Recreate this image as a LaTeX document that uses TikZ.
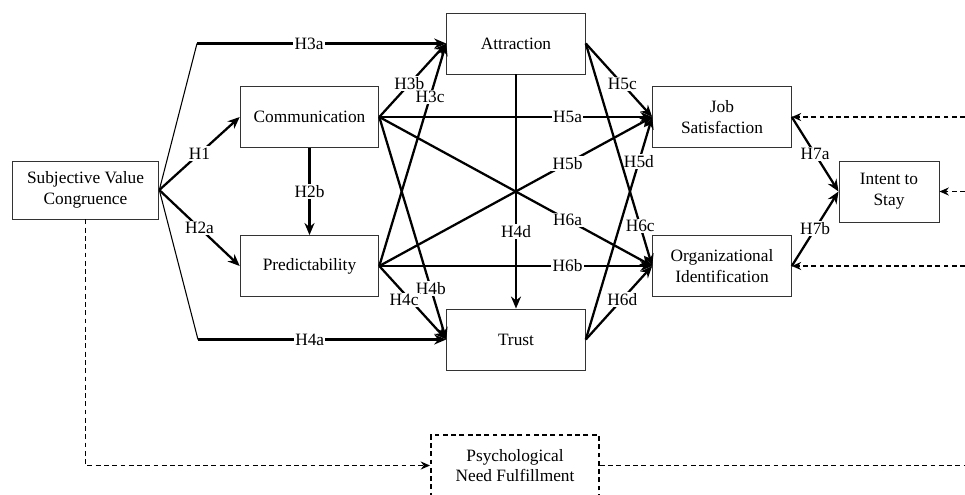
\documentclass[tikz,border=0pt]{standalone}
\usepackage{fontspec}
\setmainfont{Liberation Serif}
\usetikzlibrary{arrows.meta}

\begin{document}
\begin{tikzpicture}[x=0.75pt,y=0.75pt,yscale=-1,xscale=1,
    font=\fontsize{13}{15.5}\selectfont,
    box/.style={draw=black!80,line width=0.7pt,minimum width=104pt,minimum height=45.75pt,align=center,inner sep=1pt},
    link/.style={line width=1.7pt,-{Stealth[length=9pt,width=7.5pt]}},
    thinline/.style={line width=0.8pt},
    hyp/.style={fill=white,inner sep=1pt},
    dashline/.style={line width=1.4pt,dash pattern=on 3.6pt off 2.6pt},
    dasharrow/.style={dashline,-{Stealth[length=7pt,width=6pt]}}]
    %set diagram size to 965 x 494
    \useasboundingbox (0,0) rectangle (965,494);
    % Boxes
    \node[box,minimum width=110pt,minimum height=43.5pt] (svc) at (85.5,190) {Subjective Value\\Congruence};
    \node[box] (comm) at (309.5,117) {Communication};
    \node[box] (pred) at (309.5,266) {Predictability};
    \node[box] (attr) at (516,43.5) {Attraction};
    \node[box] (trust) at (516,339.5) {Trust};
    \node[box] (js) at (722,117) {Job\\Satisfaction};
    \node[box] (oi) at (722,266) {Organizational\\Identification};
    \node[box,minimum width=75pt] (stay) at (889,191.5) {Intent to\\Stay};
    \node[box,draw=black,dashline,minimum width=126pt] (pnf) at (515,465.5) {Psychological\\Need Fulfillment};
    % Bend points and right edge
    \coordinate (topbend) at (197,43.5);
    \coordinate (lowbend) at (198,339.5);
    \coordinate (pnfout) at (965,465.5);
    \coordinate (jsin) at (965,117);
    \coordinate (stayin) at (965,191.5);
    \coordinate (oiin) at (965,266);
    % SVC paths
    \draw[link] (svc.east) -- node[hyp] {H1} (comm.west);
    \draw[link] (svc.east) -- node[hyp] {H2a} (pred.west);
    \draw[link] (comm.south) -- node[hyp] {H2b} (pred.north);
    \draw[thinline] (svc.east) -- (topbend);
    \draw[link] (topbend) -- node[hyp,pos=.45] {H3a} (attr.west);
    \draw[thinline] (svc.east) -- (lowbend);
    \draw[link] (lowbend) -- node[hyp,pos=.45] {H4a} (trust.west);
    % Communication / Predictability to Attraction / Trust
    \draw[link] (comm.east) -- node[hyp,pos=.45] {H3b} (attr.west);
    \draw[link] (pred.east) -- node[hyp,pos=.76] {H3c} (attr.west);
    \draw[link] (comm.east) -- node[hyp,pos=.77] {H4b} (trust.west);
    \draw[link] (pred.east) -- node[hyp,pos=.37,yshift=-5pt] {H4c} (trust.west);
    \draw[link] (attr.south) -- node[hyp,pos=.67] {H4d} (trust.north);
    % Paths to outcomes
    \draw[link] (comm.east) -- node[hyp,pos=.69] {H5a} (js.west);
    \draw[link] (pred.east) -- node[hyp,pos=.69] {H5b} (js.west);
    \draw[link] (attr.east) -- node[hyp,pos=.55] {H5c} (js.west);
    \draw[link] (trust.east) -- node[hyp,pos=.8] {H5d} (js.west);
    \draw[link] (comm.east) -- node[hyp,pos=.69] {H6a} (oi.west);
    \draw[link] (pred.east) -- node[hyp,pos=.69] {H6b} (oi.west);
    \draw[link] (attr.east) -- node[hyp,pos=.82] {H6c} (oi.west);
    \draw[link] (trust.east) -- node[hyp,pos=.55] {H6d} (oi.west);
    \draw[link] (js.east) -- node[hyp] {H7a} (stay.west);
    \draw[link] (oi.east) -- node[hyp] {H7b} (stay.west);
    % Dashed paths
    \draw[dasharrow] (svc.south) |- (pnf.west);
    \draw[dashline] (pnf.east) -- (pnfout);
    \draw[dasharrow] (jsin) -- (js.east);
    \draw[dasharrow] (stayin) -- (stay.east);
    \draw[dasharrow] (oiin) -- (oi.east);
\end{tikzpicture}
\end{document}
